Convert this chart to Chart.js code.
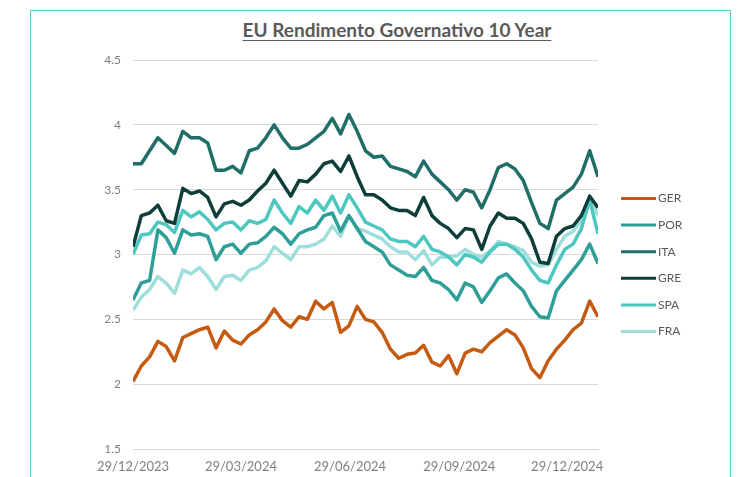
<!DOCTYPE html>
<html>
<head>
<meta charset="utf-8">
<script src="https://cdn.jsdelivr.net/npm/chart.js@4.4.1/dist/chart.umd.min.js"></script>
<style>
  html, body { margin: 0; padding: 0; background: #fff; }
  #frame { position: absolute; left: 30px; top: 10px; width: 701px; height: 500px; border: 1.5px solid #5ccfcf; box-sizing: border-box; }
  #title { position: absolute; left: 197px; top: 19px; width: 400px; text-align: center; font: bold 19px Lato, sans-serif; line-height: 22px; color: #595959; text-decoration: underline; text-underline-offset: 3px; }
  #wrap { position: absolute; left: 31px; top: 11px; width: 698px; height: 466px; }
</style>
</head>
<body>
<div id="frame"></div>
<div id="title">EU Rendimento Governativo 10 Year</div>
<div id="wrap"><canvas id="yieldChart"></canvas></div>
<script>
// Weekly closes
const dates = [
    '2023-12-29','2024-01-05','2024-01-12','2024-01-19','2024-01-26','2024-02-02','2024-02-09','2024-02-16',
    '2024-02-23','2024-03-01','2024-03-08','2024-03-15','2024-03-22','2024-03-29','2024-04-05','2024-04-12',
    '2024-04-19','2024-04-26','2024-05-03','2024-05-10','2024-05-17','2024-05-24','2024-05-31','2024-06-07',
    '2024-06-14','2024-06-21','2024-06-28','2024-07-05','2024-07-12','2024-07-19','2024-07-26','2024-08-02',
    '2024-08-09','2024-08-16','2024-08-23','2024-08-30','2024-09-06','2024-09-13','2024-09-20','2024-09-27',
    '2024-10-04','2024-10-11','2024-10-18','2024-10-25','2024-11-01','2024-11-08','2024-11-15','2024-11-22',
    '2024-11-29','2024-12-06','2024-12-13','2024-12-20','2024-12-27','2025-01-03','2025-01-10','2025-01-17',
    '2025-01-24'
];

const tickDates = ['29/12/2023', '29/03/2024', '29/06/2024', '29/09/2024', '29/12/2024'];
const yTicks = [1.5, 2, 2.5, 3, 3.5, 4, 4.5];

const ger = [2.02,2.14,2.21,2.33,2.29,2.18,2.36,2.39,2.42,2.44, 2.28,2.41,2.34,2.31,2.38,2.42,2.48,2.58,2.49,2.44,
    2.52,2.50,2.64,2.58,2.63,2.40,2.45,2.60,2.50,2.48, 2.40,2.27,2.20,2.23,2.24,2.30,2.17,2.14,2.22,2.08,
    2.24,2.27,2.25,2.32,2.37,2.42,2.38,2.28,2.12,2.05, 2.18,2.27,2.34,2.42,2.47,2.64,2.52];
const por = [2.65,2.78,2.80,3.19,3.13,3.01,3.19,3.15,3.16,3.14, 2.96,3.06,3.08,3.01,3.08,3.09,3.14,3.21,3.16,3.08,
    3.16,3.19,3.21,3.30,3.32,3.18,3.30,3.20,3.10,3.06, 3.02,2.92,2.88,2.84,2.83,2.90,2.80,2.78,2.73,2.65,
    2.78,2.75,2.63,2.72,2.82,2.85,2.78,2.72,2.60,2.52, 2.51,2.72,2.80,2.88,2.96,3.08,2.93];
const ita = [3.70,3.70,3.80,3.90,3.84,3.78,3.95,3.90,3.90,3.86, 3.65,3.65,3.68,3.63,3.80,3.82,3.90,4.00,3.90,3.82,
    3.82,3.85,3.90,3.95,4.05,3.93,4.08,3.95,3.80,3.75, 3.76,3.68,3.66,3.64,3.60,3.72,3.62,3.56,3.50,3.42,
    3.50,3.48,3.36,3.50,3.67,3.70,3.66,3.57,3.40,3.24, 3.20,3.42,3.47,3.52,3.62,3.80,3.60];
const gre = [3.06,3.30,3.32,3.38,3.26,3.24,3.51,3.47,3.49,3.44, 3.29,3.39,3.41,3.38,3.42,3.49,3.55,3.65,3.55,3.45,
    3.57,3.56,3.62,3.70,3.72,3.64,3.76,3.60,3.46,3.46, 3.42,3.36,3.34,3.34,3.30,3.44,3.30,3.24,3.20,3.13,
    3.20,3.19,3.04,3.22,3.32,3.28,3.28,3.24,3.12,2.94, 2.93,3.14,3.20,3.22,3.30,3.45,3.36];
const spa = [3.00,3.15,3.16,3.25,3.23,3.17,3.34,3.29,3.33,3.27, 3.19,3.24,3.25,3.19,3.26,3.24,3.27,3.42,3.32,3.24,
    3.37,3.32,3.42,3.34,3.45,3.32,3.46,3.36,3.25,3.22, 3.19,3.12,3.10,3.10,3.06,3.14,3.04,3.02,2.98,2.92,
    3.00,2.98,2.94,3.02,3.08,3.08,3.04,2.98,2.88,2.80, 2.78,2.92,3.04,3.08,3.20,3.42,3.16];
const fra = [2.57,2.67,2.73,2.83,2.78,2.70,2.88,2.85,2.90,2.83, 2.73,2.83,2.84,2.80,2.88,2.90,2.95,3.06,3.01,2.96,
    3.06,3.06,3.08,3.12,3.22,3.14,3.30,3.20,3.18,3.15, 3.12,3.06,3.02,3.02,2.96,3.03,2.92,2.98,2.98,2.99,
    3.04,3.00,2.98,3.03,3.10,3.08,3.06,3.03,2.94,2.91, 2.92,3.04,3.14,3.18,3.26,3.45,3.30];

const seriesNames = ['GER', 'POR', 'ITA', 'GRE', 'SPA', 'FRA'];
const seriesValues = [ger, por, ita, gre, spa, fra];
const seriesColors = ['#c55a11', '#2e9f98', '#1f6e67', '#0e3e3a', '#4fc7c1', '#9fdfdb'];

// day offsets from the first date
const DAY = 86400000;
const t0 = Date.parse(dates[0]);
const dayOf = d => Math.round((Date.parse(d) - t0) / DAY);
const dmyToIso = s => { const [d, m, y] = s.split('/'); return `${y}-${m}-${d}`; };
const tickDays = tickDates.map(s => dayOf(dmyToIso(s)));

const sideLegend = {
    id: 'sideLegend',
    afterDraw(chart) {
        const { ctx, chartArea } = chart;
        const x0 = chartArea.right + 23;
        ctx.save();
        chart.data.datasets.forEach((ds, i) => {
            const y = 187.5 + i * 26.6;
            ctx.strokeStyle = ds.borderColor;
            ctx.lineWidth = 3;
            ctx.beginPath();
            ctx.moveTo(x0, y);
            ctx.lineTo(x0 + 35, y);
            ctx.stroke();
            ctx.fillStyle = '#595959';
            ctx.font = '12px Lato';
            ctx.textBaseline = 'middle';
            ctx.fillText(ds.label, x0 + 37, y);
        });
        ctx.restore();
    }
};

new Chart(document.getElementById('yieldChart'), {
    type: 'line',
    data: {
        datasets: seriesNames.map((name, i) => ({
            label: name,
            data: seriesValues[i].map((v, j) => ({ x: dayOf(dates[j]), y: v })),
            borderColor: seriesColors[i],
            backgroundColor: seriesColors[i],
            borderWidth: 3.5,
            pointRadius: 0,
            tension: 0,
            borderJoinStyle: 'round'
        }))
    },
    options: {
        responsive: true,
        maintainAspectRatio: false,
        animation: false,
        layout: { padding: { top: 49, right: 131, bottom: 2, left: 0 } },
        plugins: {
            legend: { display: false },
            title: { display: false },
            tooltip: { enabled: false }
        },
        scales: {
            x: {
                type: 'linear',
                min: 0,
                max: dayOf(dates[dates.length - 1]),
                afterBuildTicks: scale => { scale.ticks = tickDays.map(v => ({ value: v })); },
                afterFit: scale => { scale.height = 26; },
                grid: { display: false, drawTicks: false },
                border: { display: true, color: '#d9d9d9' },
                ticks: {
                    padding: 10,
                    color: '#7f7f7f',
                    font: { family: 'Lato', size: 13 },
                    maxRotation: 0,
                    autoSkip: false,
                    callback: (v) => tickDates[tickDays.indexOf(v)]
                }
            },
            y: {
                min: 1.5,
                max: 4.5,
                afterBuildTicks: scale => { scale.ticks = yTicks.map(v => ({ value: v })); },
                afterFit: scale => { scale.width = 102; },
                grid: { color: '#d9d9d9', drawTicks: false },
                border: { display: false },
                ticks: {
                    padding: 12,
                    color: '#7f7f7f',
                    font: { family: 'Lato', size: 12 },
                    callback: v => String(v)
                }
            }
        }
    },
    plugins: [sideLegend]
});
</script>
</body>
</html>
